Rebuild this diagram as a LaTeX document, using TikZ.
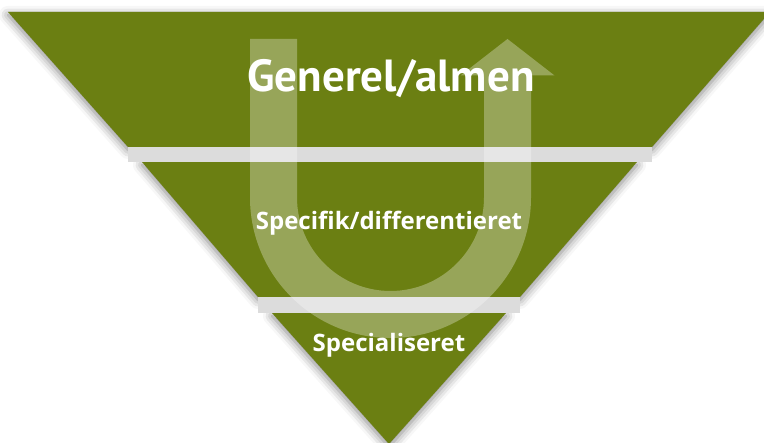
\documentclass[tikz,border=0pt]{standalone}
\usepackage{fontspec}
\setmainfont{Open Sans}
\newfontfamily\titlefont{PT Sans}
\usetikzlibrary{shadows.blur}
\definecolor{bandgreen}{HTML}{6B7F12}
\definecolor{gapgray}{HTML}{DCDCDC}
\begin{document}
\begin{tikzpicture}[x=1pt,y=1pt,
  band/.style={fill=bandgreen, draw=none,
    blur shadow={shadow xshift=0pt, shadow yshift=-3pt, shadow blur radius=9pt, shadow opacity=50}},
  gapband/.style={fill=gapgray, draw=none},
  uarrow/.style={fill=white, fill opacity=0.3, draw=none},
  biglbl/.style={text=white, font=\titlefont\bfseries\fontsize{45}{52}\selectfont, anchor=base, inner sep=0pt},
  lbl/.style={text=white, font=\bfseries\fontsize{24}{29}\selectfont, anchor=base, inner sep=0pt}]
\useasboundingbox (0,0) rectangle (764,443);
% bands
\path[band] (8,431) -- (770,431) -- (652,296) -- (128,296) -- cycle;
\path[band] (142,281) -- (637,281) -- (520,146) -- (258,146) -- cycle;
\path[band] (272,130) -- (506,130) -- (389,-1) -- cycle;
% gaps (shadow strips)
\path[gapband] (128,296) rectangle (652,281);
\path[gapband] (258,146) rectangle (520,130);
% U-turn arrow
\path[uarrow] (250,404) -- (250,245.5) arc[start angle=180,end angle=360,radius=140.5]
  -- (531,367.5) -- (554.5,367.5) -- (507.5,404) -- (460.5,367.5) -- (484,367.5)
  -- (484,245.5) arc[start angle=0,end angle=-180,radius=93.5] -- (297,404) -- cycle;
% labels
\node[biglbl] (gen) at (391,351) {Generel/almen};
\node[lbl] (spec) at (389,213) {Specifik/differentieret};
\node[lbl] (spez) at (389,91) {Specialiseret};
\end{tikzpicture}
\end{document}
